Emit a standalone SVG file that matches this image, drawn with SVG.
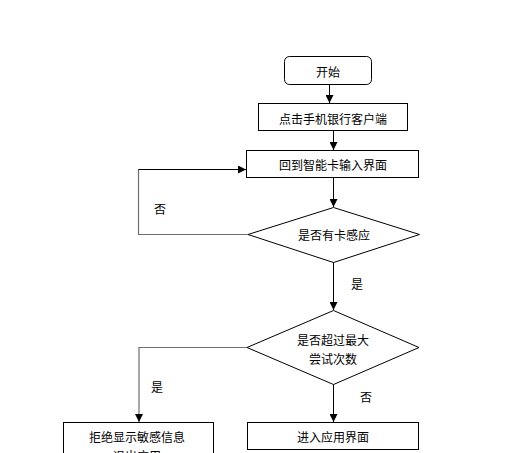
<svg xmlns="http://www.w3.org/2000/svg" width="518" height="453" viewBox="0 0 518 453">
<defs>
<style>
.box{fill:#fff;stroke:#000;stroke-width:1}
.t{font-family:"Noto Sans CJK SC","Noto Sans",sans-serif;font-size:12px;fill:#000;text-anchor:middle;dominant-baseline:central}
.ln{fill:none;stroke:#000;stroke-width:1}
.lg{fill:none;stroke:#6e6e6e;stroke-width:1.2}
</style>
<marker id="ah" viewBox="0 0 10 10" refX="10" refY="5" markerWidth="8" markerHeight="8" markerUnits="userSpaceOnUse" orient="auto">
<path d="M0,0 L10,5 L0,10 z" fill="#000"/>
</marker>
</defs>
<rect width="518" height="453" fill="#fff"/>
<g id="connectors">
<line class="ln" x1="329.5" y1="85" x2="329.5" y2="103" marker-end="url(#ah)"/>
<line class="ln" x1="333.5" y1="131" x2="333.5" y2="150" marker-end="url(#ah)"/>
<line class="ln" x1="333.5" y1="178" x2="333.5" y2="207" marker-end="url(#ah)"/>
<polyline class="lg" points="248,234.5 138.5,234.5 138.5,169"/>
<line class="ln" x1="138.5" y1="169.5" x2="246" y2="169.5" marker-end="url(#ah)"/>
<line class="ln" x1="333.5" y1="262" x2="333.5" y2="310" marker-end="url(#ah)"/>
<polyline class="lg" points="247,347.5 139,347.5 139,422" marker-end="url(#ah)"/>
<line class="ln" x1="333.5" y1="384" x2="333.5" y2="422" marker-end="url(#ah)"/>
<text class="t" x="160" y="208">否</text>
<text class="t" x="357" y="283">是</text>
<text class="t" x="157" y="386">是</text>
<text class="t" x="366" y="396">否</text>
</g>
<g id="start">
<rect class="box" x="284.5" y="56.5" width="87" height="28" rx="5"/>
<text class="t" x="328" y="71">开始</text>
</g>
<g id="click">
<rect class="box" x="258.5" y="103.5" width="149" height="27"/>
<text class="t" x="333" y="118">点击手机银行客户端</text>
</g>
<g id="input">
<rect class="box" x="246.5" y="150.5" width="172" height="27"/>
<text class="t" x="333" y="164">回到智能卡输入界面</text>
</g>
<g id="sense">
<polygon class="box" points="333.5,207.5 419.5,234.5 333.5,262.5 248,234.5"/>
<text class="t" x="334" y="234">是否有卡感应</text>
</g>
<g id="maxtry">
<polygon class="box" points="333.5,310.5 419,347.5 333.5,384.5 247,347.5"/>
<text class="t" x="333" y="339">是否超过最大</text>
<text class="t" x="333" y="358">尝试次数</text>
</g>
<g id="reject">
<rect class="box" x="63.5" y="422.5" width="150" height="40"/>
<text class="t" x="137" y="436">拒绝显示敏感信息</text>
<text class="t" x="137" y="455">退出应用</text>
</g>
<g id="enter">
<rect class="box" x="247.5" y="422.5" width="171" height="27"/>
<text class="t" x="333" y="436">进入应用界面</text>
</g>
</svg>
